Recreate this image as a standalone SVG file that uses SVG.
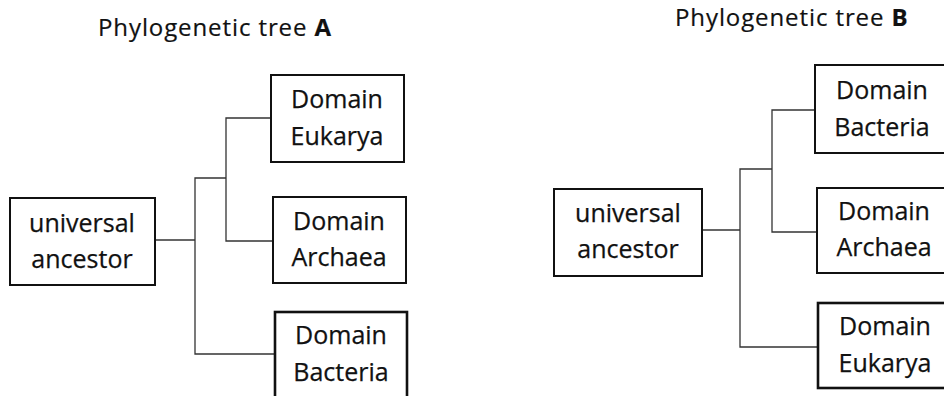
<svg xmlns="http://www.w3.org/2000/svg" width="944" height="396" viewBox="0 0 944 396">
  <style>
    .bg { fill: #ffffff; }
    .box { fill: #ffffff; stroke: #111111; stroke-width: 2; }
    .box.heavy { stroke-width: 2.6; }
    .label { font-family: "Open Sans", "Noto Sans", "DejaVu Sans", sans-serif; font-size: 25px; fill: #111111; text-anchor: middle; stroke: #111111; stroke-width: 0.25; }
    .title { font-family: "Open Sans", "Noto Sans", "DejaVu Sans", sans-serif; font-size: 24px; fill: #111111; letter-spacing: 0.9px; stroke: #111111; stroke-width: 0.2; }
    .title .key { font-weight: bold; }
    .edge { fill: none; stroke: #333333; stroke-width: 1.3; }
  </style>
  <rect class="bg" x="0" y="0" width="944" height="396"/>

  <!-- Tree A -->
  <text id="titleA" class="title" x="98" y="36">Phylogenetic tree <tspan class="key">A</tspan></text>

  <g id="connectorsA">
    <polyline class="edge" points="155,240 195,240"/>
    <polyline class="edge" points="226,178 195,178 195,354 275,354"/>
    <polyline class="edge" points="271,118 226,118 226,241 273,241"/>
  </g>

  <g id="A-ancestor">
    <rect class="box" x="10" y="198" width="145" height="87"/>
    <text class="label" x="82" y="232">universal</text>
    <text class="label" x="82" y="268">ancestor</text>
  </g>
  <g id="A-eukarya">
    <rect class="box" x="271" y="75" width="133" height="87"/>
    <text class="label" x="337" y="108">Domain</text>
    <text class="label" x="337" y="145">Eukarya</text>
  </g>
  <g id="A-archaea">
    <rect class="box" x="273" y="197" width="133" height="86"/>
    <text class="label" x="339" y="230">Domain</text>
    <text class="label" x="339" y="266">Archaea</text>
  </g>
  <g id="A-bacteria">
    <rect class="box heavy" x="275" y="312" width="132" height="86"/>
    <text class="label" x="341" y="344">Domain</text>
    <text class="label" x="341" y="381">Bacteria</text>
  </g>

  <!-- Tree B -->
  <text id="titleB" class="title" x="675" y="26">Phylogenetic tree <tspan class="key">B</tspan></text>

  <g id="connectorsB">
    <polyline class="edge" points="702,230 740,230"/>
    <polyline class="edge" points="772,169 740,169 740,347 818,347"/>
    <polyline class="edge" points="815,110 772,110 772,232 817,232"/>
  </g>

  <g id="B-ancestor">
    <rect class="box" x="554" y="189" width="148" height="87"/>
    <text class="label" x="628" y="222">universal</text>
    <text class="label" x="628" y="258">ancestor</text>
  </g>
  <g id="B-bacteria">
    <rect class="box" x="815" y="65" width="134" height="88"/>
    <text class="label" x="882" y="99">Domain</text>
    <text class="label" x="882" y="136">Bacteria</text>
  </g>
  <g id="B-archaea">
    <rect class="box" x="817" y="188" width="134" height="85"/>
    <text class="label" x="884" y="220">Domain</text>
    <text class="label" x="884" y="256">Archaea</text>
  </g>
  <g id="B-eukarya">
    <rect class="box heavy" x="818" y="303" width="134" height="85"/>
    <text class="label" x="885" y="335">Domain</text>
    <text class="label" x="885" y="372">Eukarya</text>
  </g>
</svg>
